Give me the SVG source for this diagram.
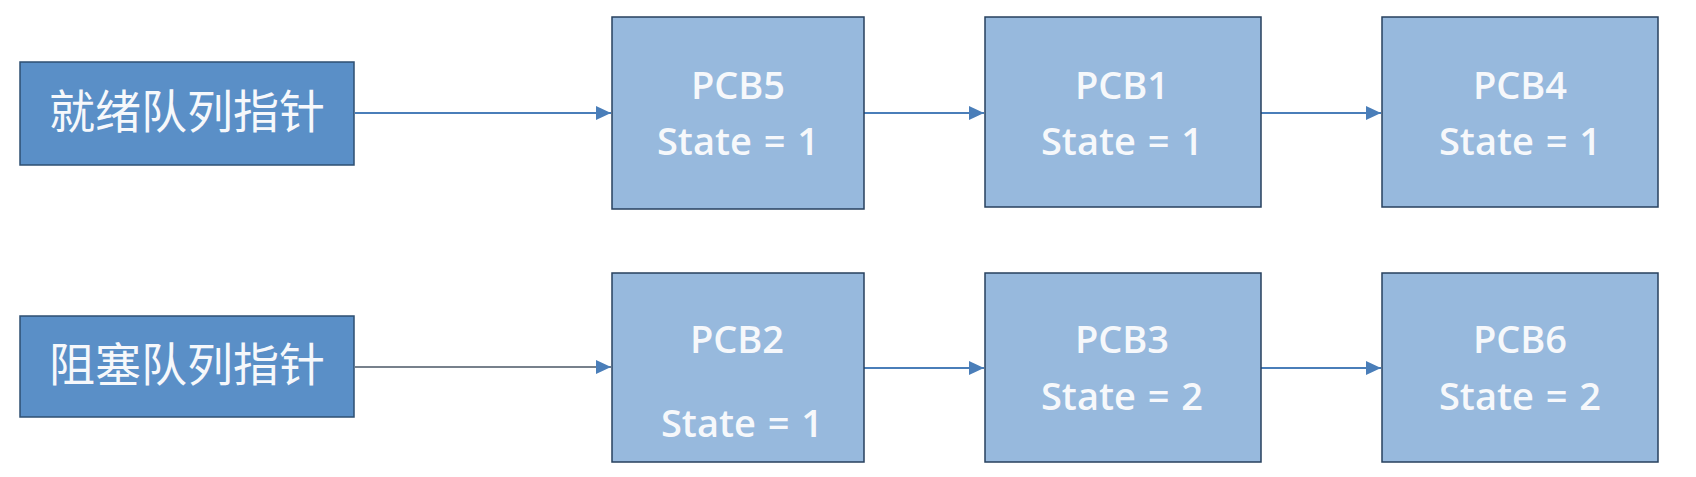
<svg xmlns="http://www.w3.org/2000/svg" width="1696" height="477" viewBox="0 0 1696 477">
<style>
.ptr{fill:#5a8fc7;stroke:#2e4f72;stroke-width:1.5}
.pcb{fill:#97b9dd;stroke:#27405e;stroke-width:1.5}
.cn{font-family:"Noto Sans CJK SC","Noto Sans CJK JP",sans-serif;font-size:46px;fill:#f6f8fb;text-anchor:middle}
.lb{font-family:"Open Sans","Liberation Sans",sans-serif;font-size:38px;font-weight:600;fill:#f6f8fb;text-anchor:middle;word-spacing:2px}
.ln{fill:none;stroke:#4a7eb9;stroke-width:2}
.lg{fill:none;stroke:#77818c;stroke-width:2}
</style>
<defs>
<marker id="ah" viewBox="0 0 15 14" refX="15" refY="7" markerWidth="15" markerHeight="14" markerUnits="userSpaceOnUse" orient="auto">
<path d="M0,0 L15,7 L0,14 Z" fill="#4a7eb9"/>
</marker>
</defs>
<rect width="1696" height="477" fill="#ffffff"/>
<g id="connectors">
<line class="ln" x1="355" y1="113" x2="611" y2="113" marker-end="url(#ah)"/>
<line class="ln" x1="864" y1="113" x2="984" y2="113" marker-end="url(#ah)"/>
<line class="ln" x1="1261" y1="113" x2="1381" y2="113" marker-end="url(#ah)"/>
<line class="lg" x1="355" y1="367" x2="611" y2="367" marker-end="url(#ah)"/>
<line class="ln" x1="864" y1="368" x2="984" y2="368" marker-end="url(#ah)"/>
<line class="ln" x1="1261" y1="368" x2="1381" y2="368" marker-end="url(#ah)"/>
</g>
<g id="ready-ptr">
<rect class="ptr" x="20" y="62" width="334" height="103"/>
<text class="cn" x="187" y="128">就绪队列指针</text>
</g>
<g id="blocked-ptr">
<rect class="ptr" x="20" y="316" width="334" height="101"/>
<text class="cn" x="187" y="381">阻塞队列指针</text>
</g>
<g id="pcb5">
<rect class="pcb" x="612" y="17" width="252" height="192"/>
<text class="lb" x="738" y="99">PCB5</text>
<text class="lb" x="738" y="155">State = 1</text>
</g>
<g id="pcb1">
<rect class="pcb" x="985" y="17" width="276" height="190"/>
<text class="lb" x="1122" y="99">PCB1</text>
<text class="lb" x="1122" y="155">State = 1</text>
</g>
<g id="pcb4">
<rect class="pcb" x="1382" y="17" width="276" height="190"/>
<text class="lb" x="1520" y="99">PCB4</text>
<text class="lb" x="1520" y="155">State = 1</text>
</g>
<g id="pcb2">
<rect class="pcb" x="612" y="273" width="252" height="189"/>
<text class="lb" x="737" y="353">PCB2</text>
<text class="lb" x="742" y="437">State = 1</text>
</g>
<g id="pcb3">
<rect class="pcb" x="985" y="273" width="276" height="189"/>
<text class="lb" x="1122" y="353">PCB3</text>
<text class="lb" x="1122" y="410">State = 2</text>
</g>
<g id="pcb6">
<rect class="pcb" x="1382" y="273" width="276" height="189"/>
<text class="lb" x="1520" y="353">PCB6</text>
<text class="lb" x="1520" y="410">State = 2</text>
</g>
</svg>
